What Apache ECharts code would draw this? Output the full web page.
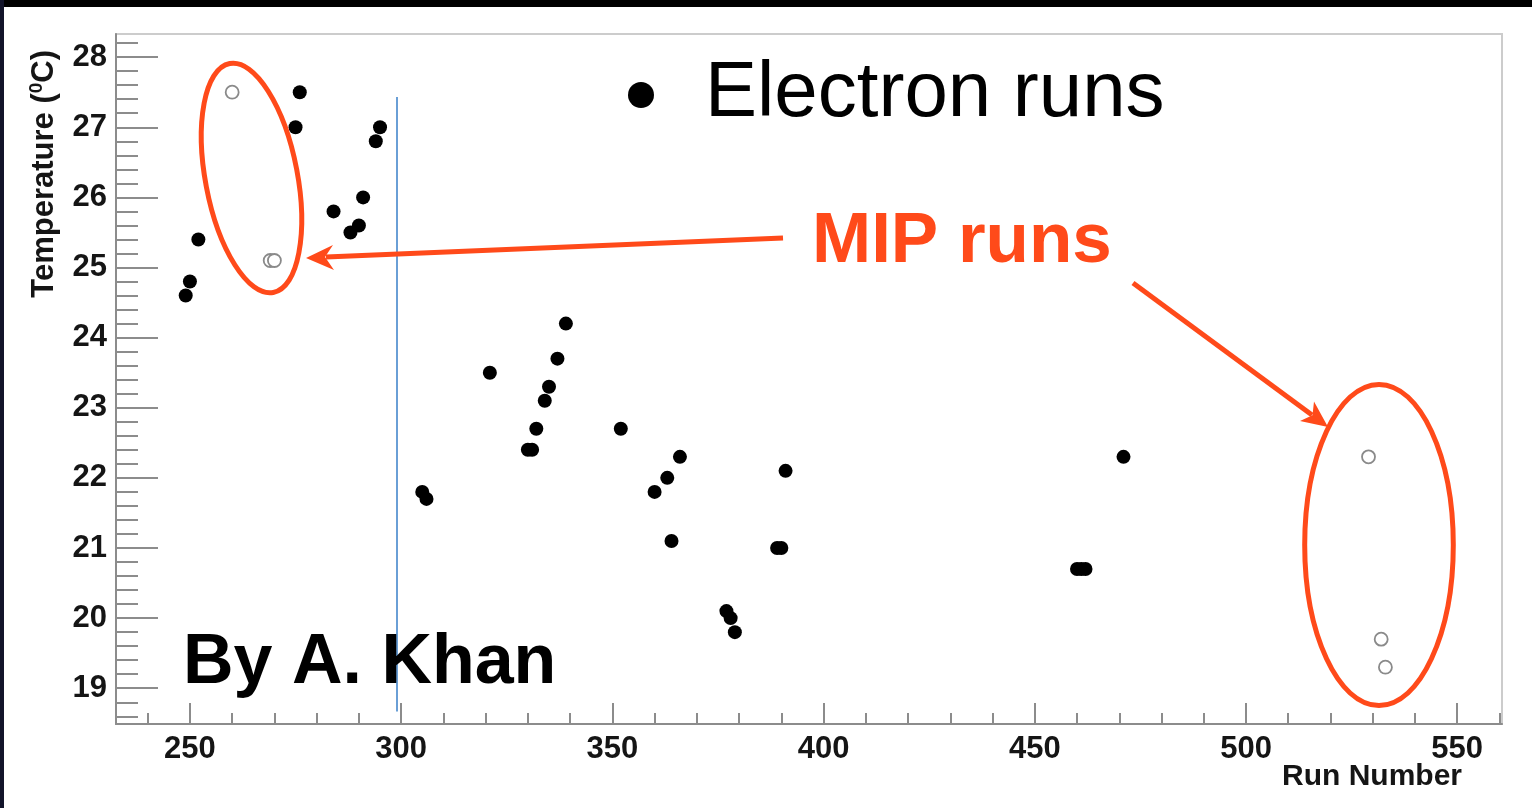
<!DOCTYPE html>
<html>
<head>
<meta charset="utf-8">
<title>Temperature vs Run Number</title>
<script src="https://cdn.jsdelivr.net/npm/echarts@6/dist/echarts.min.js"></script>
<style>
  html, body { margin: 0; padding: 0; background: #fff; }
  #main { width: 1532px; height: 808px; }
</style>
</head>
<body>
<div id="main"></div>
<script>
// electron runs (filled dots): [run number, temperature]
var electronRuns = [
  [249, 24.6], [250, 24.8], [252, 25.4], [275, 27.0], [276, 27.5],
  [284, 25.8], [288, 25.5], [290, 25.6], [291, 26.0], [294, 26.8], [295, 27.0],
  [305, 21.8], [306, 21.7], [321, 23.5], [330, 22.4], [331, 22.4], [332, 22.7],
  [334, 23.1], [335, 23.3], [337, 23.7], [339, 24.2], [352, 22.7],
  [360, 21.8], [363, 22.0], [364, 21.1], [366, 22.3],
  [377, 20.1], [378, 20.0], [379, 19.8], [389, 21.0], [390, 21.0], [391, 22.1],
  [460, 20.7], [461, 20.7], [462, 20.7], [471, 22.3]
];
// MIP runs (open circles)
var mipRuns = [
  [260, 27.5], [269, 25.1], [270, 25.1],
  [529, 22.3], [532, 19.7], [533, 19.3]
];
var xTicks = [250, 300, 350, 400, 450, 500, 550];
var yTicks = [19, 20, 21, 22, 23, 24, 25, 26, 27, 28];
var xRange = [232.5, 560.6];
var yRange = [18.49, 28.33];
// blue separator: run, top temp, bottom temp
var cutLine = [299, 27.43, 18.67];

// minor ticks, 5 per major step
var xMinor = [];
for (var v = 240; v <= 560; v += 10) xMinor.push(v);
var yMinor = [];
for (var k = 93; k <= 141; k++) yMinor.push(Math.round(k * 2) / 10);

var red = '#ff4a1a';
var axisGrey = '#8c8c8c';
var tickFont = { fontFamily: 'Liberation Sans', fontWeight: 'bold', fontSize: 31, color: '#151515' };

var myChart = echarts.init(document.getElementById('main'));

var option = {
  animation: false,
  backgroundColor: '#fff',
  grid: {
    left: 116, right: 30, top: 34, bottom: 84,
    show: true, borderColor: '#cccccc', borderWidth: 2,
    outerBoundsMode: 'none'
  },
  xAxis: [
    {
      type: 'value', position: 'bottom', min: xRange[0], max: xRange[1],
      axisLine: { lineStyle: { color: axisGrey, width: 2 } },
      axisTick: { customValues: xTicks, inside: true, length: 21, lineStyle: { color: axisGrey, width: 2 } },
      axisLabel: Object.assign({ customValues: xTicks, margin: 10 }, tickFont),
      splitLine: { show: false }
    },
    {
      type: 'value', position: 'bottom', min: xRange[0], max: xRange[1],
      axisLine: { show: false },
      axisTick: { customValues: xMinor, inside: true, length: 11, lineStyle: { color: axisGrey, width: 2 } },
      axisLabel: { show: false },
      splitLine: { show: false }
    }
  ],
  yAxis: [
    {
      type: 'value', position: 'left', min: yRange[0], max: yRange[1],
      axisLine: { show: true, lineStyle: { color: axisGrey, width: 2 } },
      axisTick: { show: true, customValues: yTicks, inside: true, length: 42, lineStyle: { color: axisGrey, width: 2 } },
      axisLabel: Object.assign({ customValues: yTicks, margin: 9 }, tickFont),
      splitLine: { show: false }
    },
    {
      type: 'value', position: 'left', min: yRange[0], max: yRange[1],
      axisLine: { show: false },
      axisTick: { show: true, customValues: yMinor, inside: true, length: 22, lineStyle: { color: axisGrey, width: 2 } },
      axisLabel: { show: false },
      splitLine: { show: false }
    }
  ],
  series: [
    {
      name: 'Electron runs',
      type: 'scatter',
      symbol: 'circle',
      symbolSize: 14,
      itemStyle: { color: '#000', opacity: 1 },
      data: electronRuns,
      markLine: {
        silent: true,
        symbol: ['none', 'none'],
        label: { show: false },
        lineStyle: { type: 'solid', color: '#6a9fd6', width: 2 },
        data: [[{ coord: [cutLine[0], cutLine[1]] }, { coord: [cutLine[0], cutLine[2]] }]]
      }
    },
    {
      name: 'MIP runs',
      type: 'scatter',
      symbol: 'circle',
      symbolSize: 13,
      itemStyle: { color: '#fff', borderColor: '#8a8a8a', borderWidth: 1.8, opacity: 1 },
      data: mipRuns
    }
  ],
  graphic: [
    // slide edges
    { type: 'rect', shape: { x: 0, y: 0, width: 1532, height: 7 }, style: { fill: '#000' }, z: 200 },
    { type: 'rect', shape: { x: 0, y: 0, width: 4, height: 808 }, style: { fill: '#12142a' }, z: 200 },
    // axis titles
    {
      type: 'text', x: 44, y: 50, rotation: Math.PI / 2, z: 100,
      style: {
        text: '{n|Temperature (}{s|0}{n|C)}',
        align: 'right', verticalAlign: 'middle',
        rich: {
          n: { fontFamily: 'Liberation Sans', fontWeight: 'bold', fontSize: 31, fill: '#151515', lineHeight: 34 },
          s: { fontFamily: 'Liberation Sans', fontWeight: 'bold', fontSize: 19, fill: '#151515', verticalAlign: 'top', lineHeight: 34, padding: [0, 0, 12, 0] }
        }
      }
    },
    {
      type: 'text', x: 1462, y: 777, z: 100,
      style: { text: 'Run Number', align: 'right', verticalAlign: 'middle', fontFamily: 'Liberation Sans', fontWeight: 'bold', fontSize: 30, fill: '#151515' }
    },
    // legend-like caption
    { type: 'circle', shape: { cx: 641, cy: 95, r: 13 }, style: { fill: '#000' }, z: 100 },
    {
      type: 'text', x: 705, y: 94, z: 100,
      style: { text: 'Electron runs', align: 'left', verticalAlign: 'middle', fontFamily: 'Liberation Sans', fontSize: 78, fill: '#000' }
    },
    {
      type: 'text', x: 812, y: 242, z: 100,
      style: { text: 'MIP runs', align: 'left', verticalAlign: 'middle', fontFamily: 'Liberation Sans', fontWeight: 'bold', fontSize: 71, fill: red }
    },
    {
      type: 'text', x: 183, y: 664, z: 100,
      style: { text: 'By A. Khan', align: 'left', verticalAlign: 'middle', fontFamily: 'Liberation Sans', fontWeight: 'bold', fontSize: 70, fill: '#000' }
    },
    // MIP ellipses
    {
      type: 'ellipse', x: 251.5, y: 178, rotation: 0.188, z: 110,
      shape: { cx: 0, cy: 0, rx: 46, ry: 116.5 },
      style: { fill: 'none', stroke: red, lineWidth: 5 }
    },
    {
      type: 'ellipse', x: 1379, y: 545, z: 110,
      shape: { cx: 0, cy: 0, rx: 74.3, ry: 160.6 },
      style: { fill: 'none', stroke: red, lineWidth: 5 }
    },
    // arrows
    {
      type: 'polyline', z: 110,
      shape: { points: [[783, 238], [326, 257]] },
      style: { stroke: red, lineWidth: 5, fill: null }
    },
    {
      type: 'polygon', z: 110,
      shape: { points: [[306, 258], [333, 245], [325, 257], [334, 270]] },
      style: { fill: red }
    },
    {
      type: 'polyline', z: 110,
      shape: { points: [[1133, 283], [1312, 415]] },
      style: { stroke: red, lineWidth: 5, fill: null }
    },
    {
      type: 'polygon', z: 110,
      shape: { points: [[1328, 427], [1300, 421], [1312.5, 415.3], [1314, 401.5]] },
      style: { fill: red }
    }
  ]
};

myChart.setOption(option);
</script>
</body>
</html>
